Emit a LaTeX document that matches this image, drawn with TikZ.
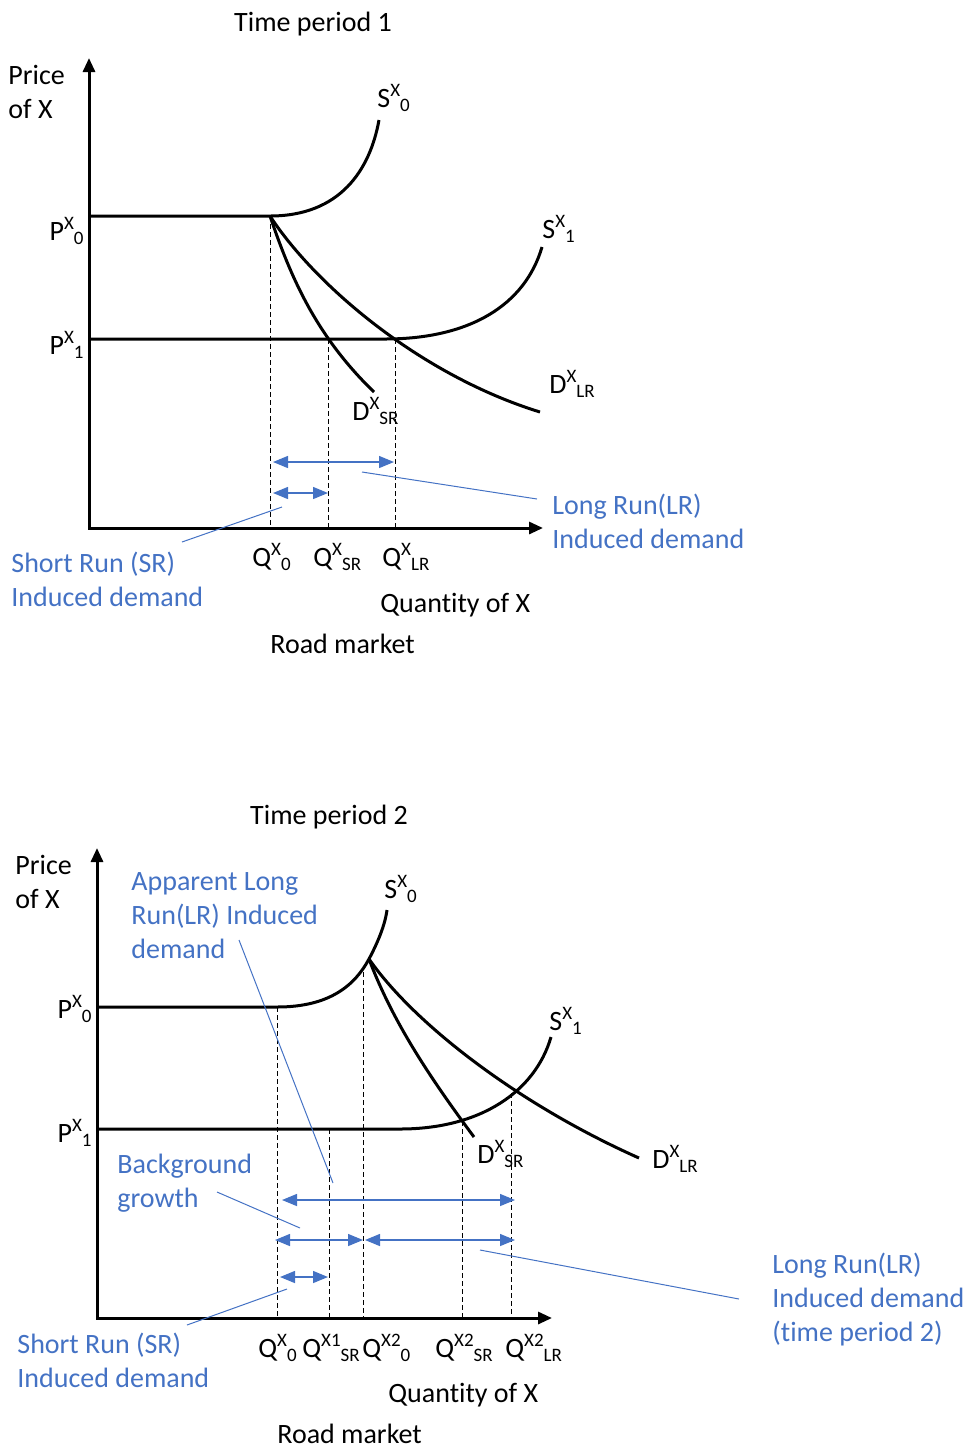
\documentclass[tikz,border=0pt]{standalone}
\usepackage{fontspec}
\setmainfont{Carlito}[Ligatures=NoCommon]
\usetikzlibrary{arrows.meta}
\definecolor{lblue}{RGB}{68,114,196}
\newcommand\qlab[3]{#1\raisebox{5.5pt}{\fontsize{9.5}{10}\selectfont #2}\raisebox{-2pt}{\fontsize{9.5}{10}\selectfont #3}}
\begin{document}
\begin{tikzpicture}[x=0.5pt,y=-0.5pt,
  every node/.style={inner sep=0pt, font=\fontsize{14}{17}\selectfont},
  axes/.style={line width=1.5pt, line join=miter, {Triangle[length=7pt,width=6pt]}-{Triangle[length=7pt,width=6pt]}},
  curveline/.style={line width=1.5pt},
  guide/.style={line width=0.45pt, dash pattern=on 2.5pt off 1.5pt},
  span/.style={draw=lblue, line width=0.7pt, {Triangle[length=7.5pt,width=6pt]}-{Triangle[length=7.5pt,width=6pt]}},
  pointer/.style={draw=lblue, line width=0.5pt},
  note/.style={text=lblue, align=left, anchor=base west},
  plain/.style={align=left, anchor=base west}
]
\path[use as bounding box] (0,0) rectangle (968,1448);

% ================= Time period 1 =================
\coordinate (O1) at (89,528);
\coordinate (Y1) at (89,58);
\coordinate (X1) at (543,528);
\coordinate (P0s1) at (89,216);
\coordinate (P1s1) at (89,339);
\coordinate (K1) at (270,216);
\coordinate (S0e1) at (379,120);
\coordinate (S1b1) at (385,339);
\coordinate (S1e1) at (542,247);
\coordinate (DSe1) at (374,392);
\coordinate (DLe1) at (540,412);
\coordinate (QS1) at (328,339);
\coordinate (QL1) at (395,339);

\draw[axes] (Y1) -- (O1) -- (X1);
\draw[curveline] (P0s1) -- (K1) .. controls (340,216) and (370,170) .. (S0e1);
\draw[curveline] (P1s1) -- (S1b1) .. controls (470,339) and (525,305) .. (S1e1);
\draw[curveline] (K1) .. controls (290,275) and (315,335) .. (DSe1);
\draw[curveline] (K1) .. controls (315,285) and (420,375) .. (DLe1);

\draw[guide] (K1) -- (K1 |- O1);
\draw[guide] (QS1) -- (QS1 |- O1);
\draw[guide] (QL1) -- (QL1 |- O1);

\coordinate (a1L) at (273,462); \coordinate (a1R) at (394,462);
\coordinate (a2L) at (273,493); \coordinate (a2R) at (328,493);
\draw[span] (a1L) -- (a1R);
\draw[span] (a2L) -- (a2R);

\coordinate (pl1a) at (362,472); \coordinate (pl1b) at (537,499);
\coordinate (ps1a) at (282,507); \coordinate (ps1b) at (182,542);
\draw[pointer] (pl1a) -- (pl1b);
\draw[pointer] (ps1a) -- (ps1b);

\node[anchor=base] (title1) at (313,31) {Time period 1};
\node[plain] (price1) at (8,118) {Price\\of X};
\node[anchor=base east] (p0lab1) at (84,240) {\qlab{P}{X}{0}};
\node[anchor=base east] (p1lab1) at (84,354) {\qlab{P}{X}{1}};
\node[plain] (s0lab1) at (377,107) {\qlab{S}{X}{0}};
\node[plain] (s1lab1) at (542,238) {\qlab{S}{X}{1}};
\node[plain] (dllab1) at (549,393) {\qlab{D}{X}{LR}};
\node[plain] (dslab1) at (352,420) {\qlab{D}{X}{SR}};
\node[plain] (q0lab1) at (252,566) {\qlab{Q}{X}{0}};
\node[plain] (qslab1) at (313,566) {\qlab{Q}{X}{SR}};
\node[plain] (qllab1) at (382,566) {\qlab{Q}{X}{LR}};
\node[plain] (qty1) at (380,612) {Quantity of X};
\node[plain] (road1) at (270,653) {Road market};
\node[note] (srnote1) at (11,606) {Short Run (SR)\\Induced demand};
\node[note] (lrnote1) at (552,548) {Long Run(LR)\\Induced demand};

% ================= Time period 2 =================
\coordinate (O2) at (97,1318);
\coordinate (Y2) at (97,848);
\coordinate (X2) at (552,1318);
\coordinate (P0s2) at (97,1007);
\coordinate (P1s2) at (97,1129);
\coordinate (S0b2) at (277,1007);
\coordinate (K2) at (369,959);
\coordinate (S0e2) at (387,910);
\coordinate (S1b2) at (400,1129);
\coordinate (S1e2) at (551,1037);
\coordinate (DSe2) at (474,1137);
\coordinate (DLe2) at (639,1158);
\coordinate (QA2) at (329,1129);
\coordinate (QB2) at (363,972);
\coordinate (QC2) at (462,1121);
\coordinate (QD2) at (511,1093);

\draw[axes] (Y2) -- (O2) -- (X2);
\draw[curveline] (P0s2) -- (S0b2) .. controls (330,1007) and (355,985) .. (K2) .. controls (378,942) and (385,925) .. (S0e2);
\draw[curveline] (P1s2) -- (S1b2) .. controls (480,1129) and (535,1092) .. (S1e2);
\draw[curveline] (K2) .. controls (392,1020) and (428,1075) .. (DSe2);
\draw[curveline] (K2) .. controls (415,1025) and (520,1105) .. (DLe2);

\draw[guide] (S0b2) -- (S0b2 |- O2);
\draw[guide] (QA2) -- (QA2 |- O2);
\draw[guide] (QB2) -- (QB2 |- O2);
\draw[guide] (QC2) -- (QC2 |- O2);
\draw[guide] (QD2) -- (QD2 |- O2);

\coordinate (b1L) at (282,1200); \coordinate (b1R) at (515,1200);
\coordinate (b2L) at (275,1240); \coordinate (b2M) at (363,1240);
\coordinate (b3L) at (365,1240); \coordinate (b3R) at (515,1240);
\coordinate (b4L) at (280,1277); \coordinate (b4R) at (328,1277);
\draw[span] (b1L) -- (b1R);
\draw[span] (b2L) -- (b2M);
\draw[span] (b3L) -- (b3R);
\draw[span] (b4L) -- (b4R);

\coordinate (pa2a) at (239,940); \coordinate (pa2b) at (333,1183);
\coordinate (pb2a) at (217,1192); \coordinate (pb2b) at (300,1228);
\coordinate (pl2a) at (480,1250); \coordinate (pl2b) at (739,1299);
\coordinate (ps2a) at (287,1289); \coordinate (ps2b) at (187,1325);
\draw[pointer] (pa2a) -- (pa2b);
\draw[pointer] (pb2a) -- (pb2b);
\draw[pointer] (pl2a) -- (pl2b);
\draw[pointer] (ps2a) -- (ps2b);

\node[anchor=base] (title2) at (329,824) {Time period 2};
\node[plain] (price2) at (15,908) {Price\\of X};
\node[anchor=base east] (p0lab2) at (92,1018) {\qlab{P}{X}{0}};
\node[anchor=base east] (p1lab2) at (92,1142) {\qlab{P}{X}{1}};
\node[plain] (s0lab2) at (384,898) {\qlab{S}{X}{0}};
\node[plain] (s1lab2) at (549,1030) {\qlab{S}{X}{1}};
\node[plain] (dslab2) at (477,1163) {\qlab{D}{X}{SR}};
\node[plain] (dllab2) at (652,1168) {\qlab{D}{X}{LR}};
\node[plain] (q0lab2) at (258,1357) {\qlab{Q}{X}{0}};
\node[plain] (q1lab2) at (302,1357) {\qlab{Q}{X1}{SR}};
\node[plain] (q20lab2) at (362,1357) {\qlab{Q}{X2}{0}};
\node[plain] (q2slab2) at (435,1357) {\qlab{Q}{X2}{SR}};
\node[plain] (q2llab2) at (505,1357) {\qlab{Q}{X2}{LR}};
\node[plain] (qty2) at (388,1402) {Quantity of X};
\node[plain] (road2) at (277,1443) {Road market};
\node[note] (apnote2) at (131,958) {Apparent Long\\Run(LR) Induced\\demand};
\node[note] (bgnote2) at (117,1207) {Background\\growth};
\node[note] (lrnote2) at (772,1341) {Long Run(LR)\\Induced demand\\(time period 2)};
\node[note] (srnote2) at (17,1387) {Short Run (SR)\\Induced demand};
\end{tikzpicture}
\end{document}
